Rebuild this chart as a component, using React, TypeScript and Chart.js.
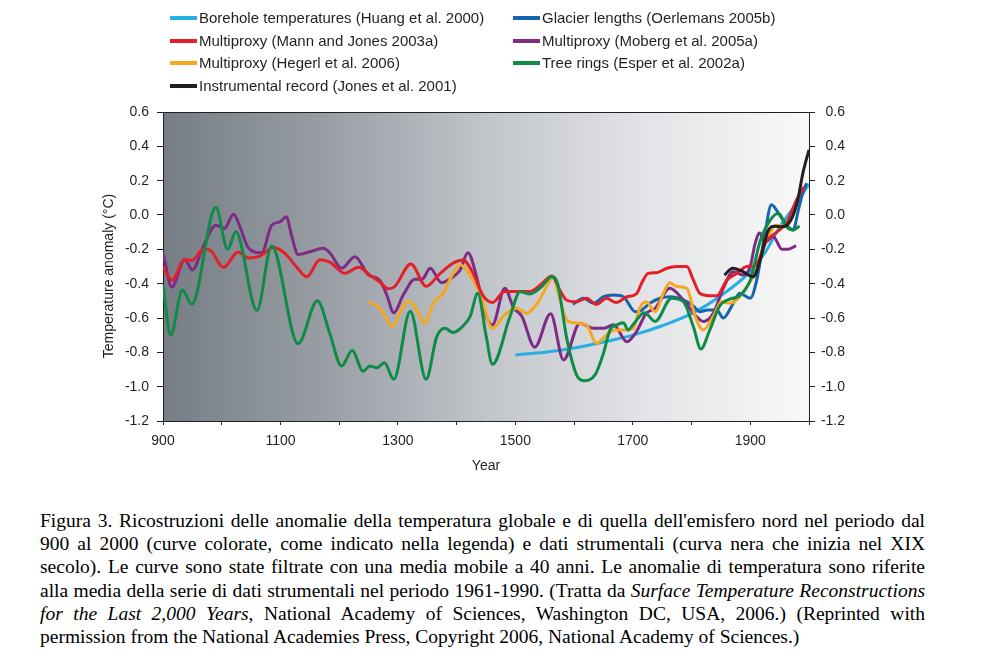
import React, { useEffect, useRef } from "react";
import { Chart, registerables } from "chart.js";
Chart.register(...registerables);

// ---------- DATA ----------
const xTicksLabelled = [900, 1100, 1300, 1500, 1700, 1900];

const boreholeYears = [1500, 1550, 1600, 1650, 1700, 1750, 1800, 1850, 1900, 1925, 1950, 1975, 2000];
const boreholeValues = [-0.815, -0.8, -0.775, -0.74, -0.7, -0.645, -0.575, -0.47, -0.33, -0.22, -0.07, 0.05, 0.18];

const glacierYears = [1598, 1616, 1633, 1650, 1667, 1684, 1704, 1712, 1729, 1746, 1763, 1786, 1803, 1814, 1828, 1843, 1854, 1868, 1882, 1900, 1911, 1925, 1936, 1950, 1962, 1973, 1982, 1990, 1996];
const glacierValues = [-0.52, -0.485, -0.514, -0.476, -0.466, -0.476, -0.563, -0.56, -0.514, -0.485, -0.476, -0.495, -0.53, -0.563, -0.553, -0.553, -0.6, -0.534, -0.456, -0.485, -0.378, -0.107, 0.06, 0.0, -0.058, -0.087, 0.03, 0.136, 0.185];

const mannYears = [900, 915, 937, 949, 969, 980, 1003, 1028, 1045, 1065, 1088, 1108, 1128, 1145, 1167, 1184, 1210, 1233, 1252, 1269, 1284, 1295, 1322, 1348, 1372, 1394, 1411, 1428, 1445, 1461, 1482, 1508, 1525, 1545, 1562, 1576, 1587, 1604, 1621, 1638, 1655, 1672, 1690, 1706, 1716, 1726, 1741, 1758, 1775, 1792, 1803, 1814, 1831, 1843, 1860, 1877, 1894, 1908, 1928, 1945, 1962, 1979, 1992];
const mannValues = [-0.3, -0.38, -0.26, -0.265, -0.2, -0.205, -0.305, -0.215, -0.25, -0.24, -0.19, -0.225, -0.305, -0.36, -0.26, -0.275, -0.34, -0.305, -0.35, -0.39, -0.43, -0.415, -0.285, -0.415, -0.34, -0.28, -0.262, -0.34, -0.47, -0.51, -0.445, -0.445, -0.445, -0.4, -0.355, -0.44, -0.495, -0.505, -0.485, -0.52, -0.485, -0.51, -0.476, -0.46, -0.39, -0.34, -0.336, -0.31, -0.3, -0.3, -0.378, -0.456, -0.47, -0.47, -0.38, -0.34, -0.3, -0.295, -0.15, -0.1, -0.045, 0.09, 0.165];

const mobergYears = [900, 915, 937, 950, 969, 990, 1005, 1020, 1031, 1045, 1068, 1085, 1099, 1110, 1119, 1130, 1150, 1173, 1184, 1204, 1227, 1250, 1269, 1281, 1293, 1309, 1329, 1341, 1355, 1374, 1394, 1406, 1419, 1434, 1448, 1461, 1482, 1497, 1511, 1533, 1560, 1582, 1610, 1633, 1650, 1667, 1690, 1706, 1723, 1738, 1763, 1786, 1808, 1820, 1837, 1854, 1871, 1888, 1900, 1908, 1916, 1925, 1939, 1954, 1965, 1978];
const mobergValues = [-0.22, -0.42, -0.26, -0.32, -0.18, -0.06, -0.077, 0.005, -0.068, -0.19, -0.22, -0.06, -0.04, -0.01, -0.12, -0.23, -0.214, -0.194, -0.22, -0.31, -0.243, -0.35, -0.38, -0.466, -0.57, -0.466, -0.374, -0.374, -0.31, -0.394, -0.36, -0.32, -0.22, -0.36, -0.57, -0.64, -0.427, -0.54, -0.59, -0.77, -0.575, -0.844, -0.63, -0.66, -0.66, -0.64, -0.738, -0.68, -0.572, -0.543, -0.427, -0.495, -0.59, -0.62, -0.572, -0.427, -0.33, -0.35, -0.3, -0.17, -0.105, -0.16, -0.125, -0.2, -0.2, -0.178];

const hegerlYears = [1250, 1269, 1291, 1304, 1319, 1332, 1346, 1360, 1377, 1391, 1406, 1423, 1440, 1461, 1482, 1502, 1519, 1539, 1556, 1564, 1576, 1587, 1604, 1621, 1638, 1655, 1670, 1684, 1701, 1712, 1723, 1738, 1752, 1763, 1775, 1792, 1806, 1820, 1837, 1851, 1865, 1877, 1894, 1908, 1925, 1945, 1960];
const hegerlValues = [-0.505, -0.543, -0.65, -0.563, -0.5, -0.553, -0.63, -0.514, -0.456, -0.36, -0.29, -0.35, -0.456, -0.66, -0.58, -0.543, -0.572, -0.505, -0.4, -0.36, -0.495, -0.61, -0.63, -0.64, -0.747, -0.7, -0.67, -0.67, -0.66, -0.54, -0.505, -0.563, -0.456, -0.394, -0.417, -0.427, -0.59, -0.67, -0.59, -0.505, -0.514, -0.495, -0.417, -0.34, -0.17, -0.06, -0.07];

const esperYears = [900, 913, 933, 949, 990, 1010, 1024, 1060, 1085, 1130, 1163, 1184, 1204, 1222, 1241, 1252, 1264, 1277, 1293, 1321, 1348, 1366, 1380, 1394, 1411, 1423, 1436, 1450, 1461, 1491, 1508, 1525, 1545, 1562, 1572, 1587, 1604, 1616, 1636, 1650, 1661, 1673, 1684, 1692, 1700, 1720, 1738, 1766, 1786, 1803, 1816, 1831, 1848, 1865, 1882, 1900, 1917, 1934, 1948, 1962, 1973, 1984];
const esperValues = [-0.41, -0.7, -0.437, -0.52, 0.045, -0.2, -0.097, -0.557, -0.18, -0.75, -0.5, -0.69, -0.88, -0.79, -0.91, -0.88, -0.89, -0.86, -0.957, -0.56, -0.957, -0.71, -0.66, -0.685, -0.646, -0.59, -0.456, -0.7, -0.87, -0.59, -0.447, -0.46, -0.417, -0.36, -0.4, -0.71, -0.93, -0.965, -0.93, -0.805, -0.67, -0.64, -0.627, -0.67, -0.64, -0.57, -0.62, -0.485, -0.505, -0.65, -0.78, -0.67, -0.53, -0.49, -0.47, -0.38, -0.15, -0.03, 0.01, -0.068, -0.087, -0.064];

const instrumentalYears = [1856, 1870, 1885, 1905, 1917, 1930, 1942, 1953, 1964, 1979, 1990, 2000];
const instrumentalValues = [-0.35, -0.31, -0.325, -0.36, -0.26, -0.095, -0.065, -0.068, -0.055, 0.06, 0.25, 0.38];

const seriesNames = [
  "Borehole temperatures (Huang et al. 2000)",
  "Glacier lengths (Oerlemans 2005b)",
  "Multiproxy (Mann and Jones 2003a)",
  "Multiproxy (Moberg et al. 2005a)",
  "Multiproxy (Hegerl et al. 2006)",
  "Tree rings (Esper et al. 2002a)",
  "Instrumental record (Jones et al. 2001)",
];
const seriesColors = ["#27aee3", "#1464ae", "#e3202a", "#7d2b85", "#f5a81f", "#0e8b47", "#231f20"];

const captionLines = [
  "Figura 3. Ricostruzioni delle anomalie della temperatura globale e di quella dell'emisfero nord nel periodo dal",
  "900 al 2000 (curve colorate, come indicato nella legenda) e dati strumentali (curva nera che inizia nel XIX",
  "secolo). Le curve sono state filtrate con una media mobile a 40 anni. Le anomalie di temperatura sono riferite",
];

// ---------- HELPERS ----------
const AXIS = "#231f20";
const SANS = "'Liberation Sans', Arial, Helvetica, sans-serif";
const SERIF = "'Liberation Serif', 'Times New Roman', serif";

function pts(xs: number[], ys: number[]) {
  return xs.map((x, i) => ({ x, y: ys[i] }));
}

const bgPlugin = {
  id: "bgGradient",
  beforeDraw(chart: any) {
    const { ctx, chartArea } = chart;
    const { left, right, top, bottom } = chartArea;
    const g = ctx.createLinearGradient(left, 0, right, 0);
    g.addColorStop(0, "#767d84");
    g.addColorStop(0.25, "#989ea4");
    g.addColorStop(0.5, "#c1c5ca");
    g.addColorStop(0.75, "#e3e4e7");
    g.addColorStop(1, "#f9f9f9");
    ctx.save();
    ctx.fillStyle = g;
    ctx.fillRect(left, top, right - left, bottom - top);
    ctx.restore();
  },
};

const framePlugin = {
  id: "frameTop",
  afterDraw(chart: any) {
    const { ctx, chartArea } = chart;
    ctx.save();
    ctx.strokeStyle = AXIS;
    ctx.lineWidth = 1;
    ctx.beginPath();
    ctx.moveTo(chartArea.left, Math.round(chartArea.top) + 0.5);
    ctx.lineTo(chartArea.right, Math.round(chartArea.top) + 0.5);
    ctx.stroke();
    // y axis title
    ctx.translate(109, 276);
    ctx.rotate(-Math.PI / 2);
    ctx.fillStyle = AXIS;
    ctx.font = `14px ${SANS}`;
    ctx.textAlign = "center";
    ctx.textBaseline = "middle";
    ctx.fillText("Temperature anomaly (°C)", 0, 0);
    ctx.restore();
  },
};

const yTickCb = (v: any) => (Math.abs(Number(v)) < 1e-9 ? "0.0" : Number(v).toFixed(1));
const xTickCb = (v: any) => (xTicksLabelled.includes(Number(v)) ? String(v) : "");

export default function App() {
  const ref = useRef<HTMLCanvasElement>(null);

  useEffect(() => {
    const canvas = ref.current;
    if (!canvas) return;
    Chart.defaults.font.family = SANS;
    Chart.defaults.font.size = 14;
    Chart.defaults.color = AXIS;

    const xs = [boreholeYears, glacierYears, mannYears, mobergYears, hegerlYears, esperYears, instrumentalYears];
    const ys = [boreholeValues, glacierValues, mannValues, mobergValues, hegerlValues, esperValues, instrumentalValues];
    const orders = [6, 5, 2, 4, 3, 1, 0];
    const datasets = seriesNames.map((name, i) => ({
      label: name,
      data: pts(xs[i], ys[i]),
      borderColor: seriesColors[i],
      backgroundColor: seriesColors[i],
      borderWidth: 3,
      pointRadius: 0,
      fill: false,
      cubicInterpolationMode: "monotone" as const,
      order: orders[i],
    }));

    const gridCommon = (len: number) => ({
      display: true,
      drawOnChartArea: false,
      drawTicks: true,
      tickLength: len,
      color: AXIS,
      lineWidth: 1,
    });
    const border = { display: true, color: AXIS, width: 1 };

    const chart = new Chart(canvas, {
      type: "line",
      data: { datasets },
      options: {
        responsive: false,
        maintainAspectRatio: false,
        animation: false,
        layout: { padding: { left: 0, right: 139, top: 112, bottom: 0 } },
        plugins: { legend: { display: false }, tooltip: { enabled: false } },
        scales: {
          x: {
            type: "linear",
            min: 900,
            max: 2000,
            afterFit: (s: any) => { s.height = 59; },
            ticks: { stepSize: 100, autoSkip: false, maxRotation: 0, padding: 8, callback: xTickCb, color: AXIS, font: { size: 14 } },
            grid: gridCommon(4),
            border,
            title: { display: true, text: "Year", color: AXIS, font: { size: 14 }, padding: { top: 0, bottom: 5.6 } },
          },
          y: {
            type: "linear",
            position: "left",
            min: -1.2,
            max: 0.6,
            afterFit: (s: any) => { s.width = 163; },
            ticks: { stepSize: 0.2, padding: 8, callback: yTickCb, color: AXIS, font: { size: 14 } },
            grid: gridCommon(6),
            border,
          },
          y2: {
            type: "linear",
            position: "right",
            min: -1.2,
            max: 0.6,
            afterFit: (s: any) => { s.width = 36; },
            ticks: { stepSize: 0.2, padding: 8, crossAlign: "far", callback: yTickCb, color: AXIS, font: { size: 14 } },
            grid: gridCommon(6),
            border,
          },
        },
      } as any,
      plugins: [bgPlugin, framePlugin],
    });
    return () => chart.destroy();
  }, []);

  const legendPos = [
    { sx: 170, tx: 199, y: 18 },
    { sx: 513, tx: 542, y: 18 },
    { sx: 170, tx: 199, y: 41 },
    { sx: 513, tx: 542, y: 41 },
    { sx: 170, tx: 199, y: 63 },
    { sx: 513, tx: 542, y: 63 },
    { sx: 170, tx: 199, y: 86 },
  ];
  // legend order: Borehole, Glacier, Mann, Moberg, Hegerl, Esper, Instrumental
  return (
    <div style={{ position: "absolute", left: 0, top: 0, width: 984, height: 655, background: "#fff", overflow: "hidden" }}>
      <canvas ref={ref} width={984} height={480} style={{ position: "absolute", left: 0, top: 0, width: 984, height: 480 }} />
      {seriesNames.map((name, i) => (
        <React.Fragment key={name}>
          <div style={{ position: "absolute", left: legendPos[i].sx, top: legendPos[i].y - 2, width: 27, height: 4, background: seriesColors[i] }} />
          <div style={{ position: "absolute", left: legendPos[i].tx, top: legendPos[i].y - 9, height: 18, lineHeight: "18px", fontFamily: SANS, fontSize: 15, color: AXIS, whiteSpace: "nowrap" }}>{name}</div>
        </React.Fragment>
      ))}
      <div style={{ position: "absolute", left: 40, top: 509, width: 885, fontFamily: SERIF, fontSize: 19.5, lineHeight: "23.2px", color: "#000" }}>
        {captionLines.map((l) => (
          <div key={l} style={{ textAlign: "justify", textAlignLast: "justify" }}>{l}</div>
        ))}
        <div style={{ textAlign: "justify", textAlignLast: "justify" }}>
          alla media della serie di dati strumentali nel periodo 1961-1990. (Tratta da <i>Surface Temperature Reconstructions</i>
        </div>
        <div style={{ textAlign: "justify", textAlignLast: "justify" }}>
          <i>for the Last 2,000 Years</i>, National Academy of Sciences, Washington DC, USA, 2006.) (Reprinted with
        </div>
        <div style={{ textAlign: "left" }}>
          permission from the National Academies Press, Copyright 2006, National Academy of Sciences.)
        </div>
      </div>
    </div>
  );
}
